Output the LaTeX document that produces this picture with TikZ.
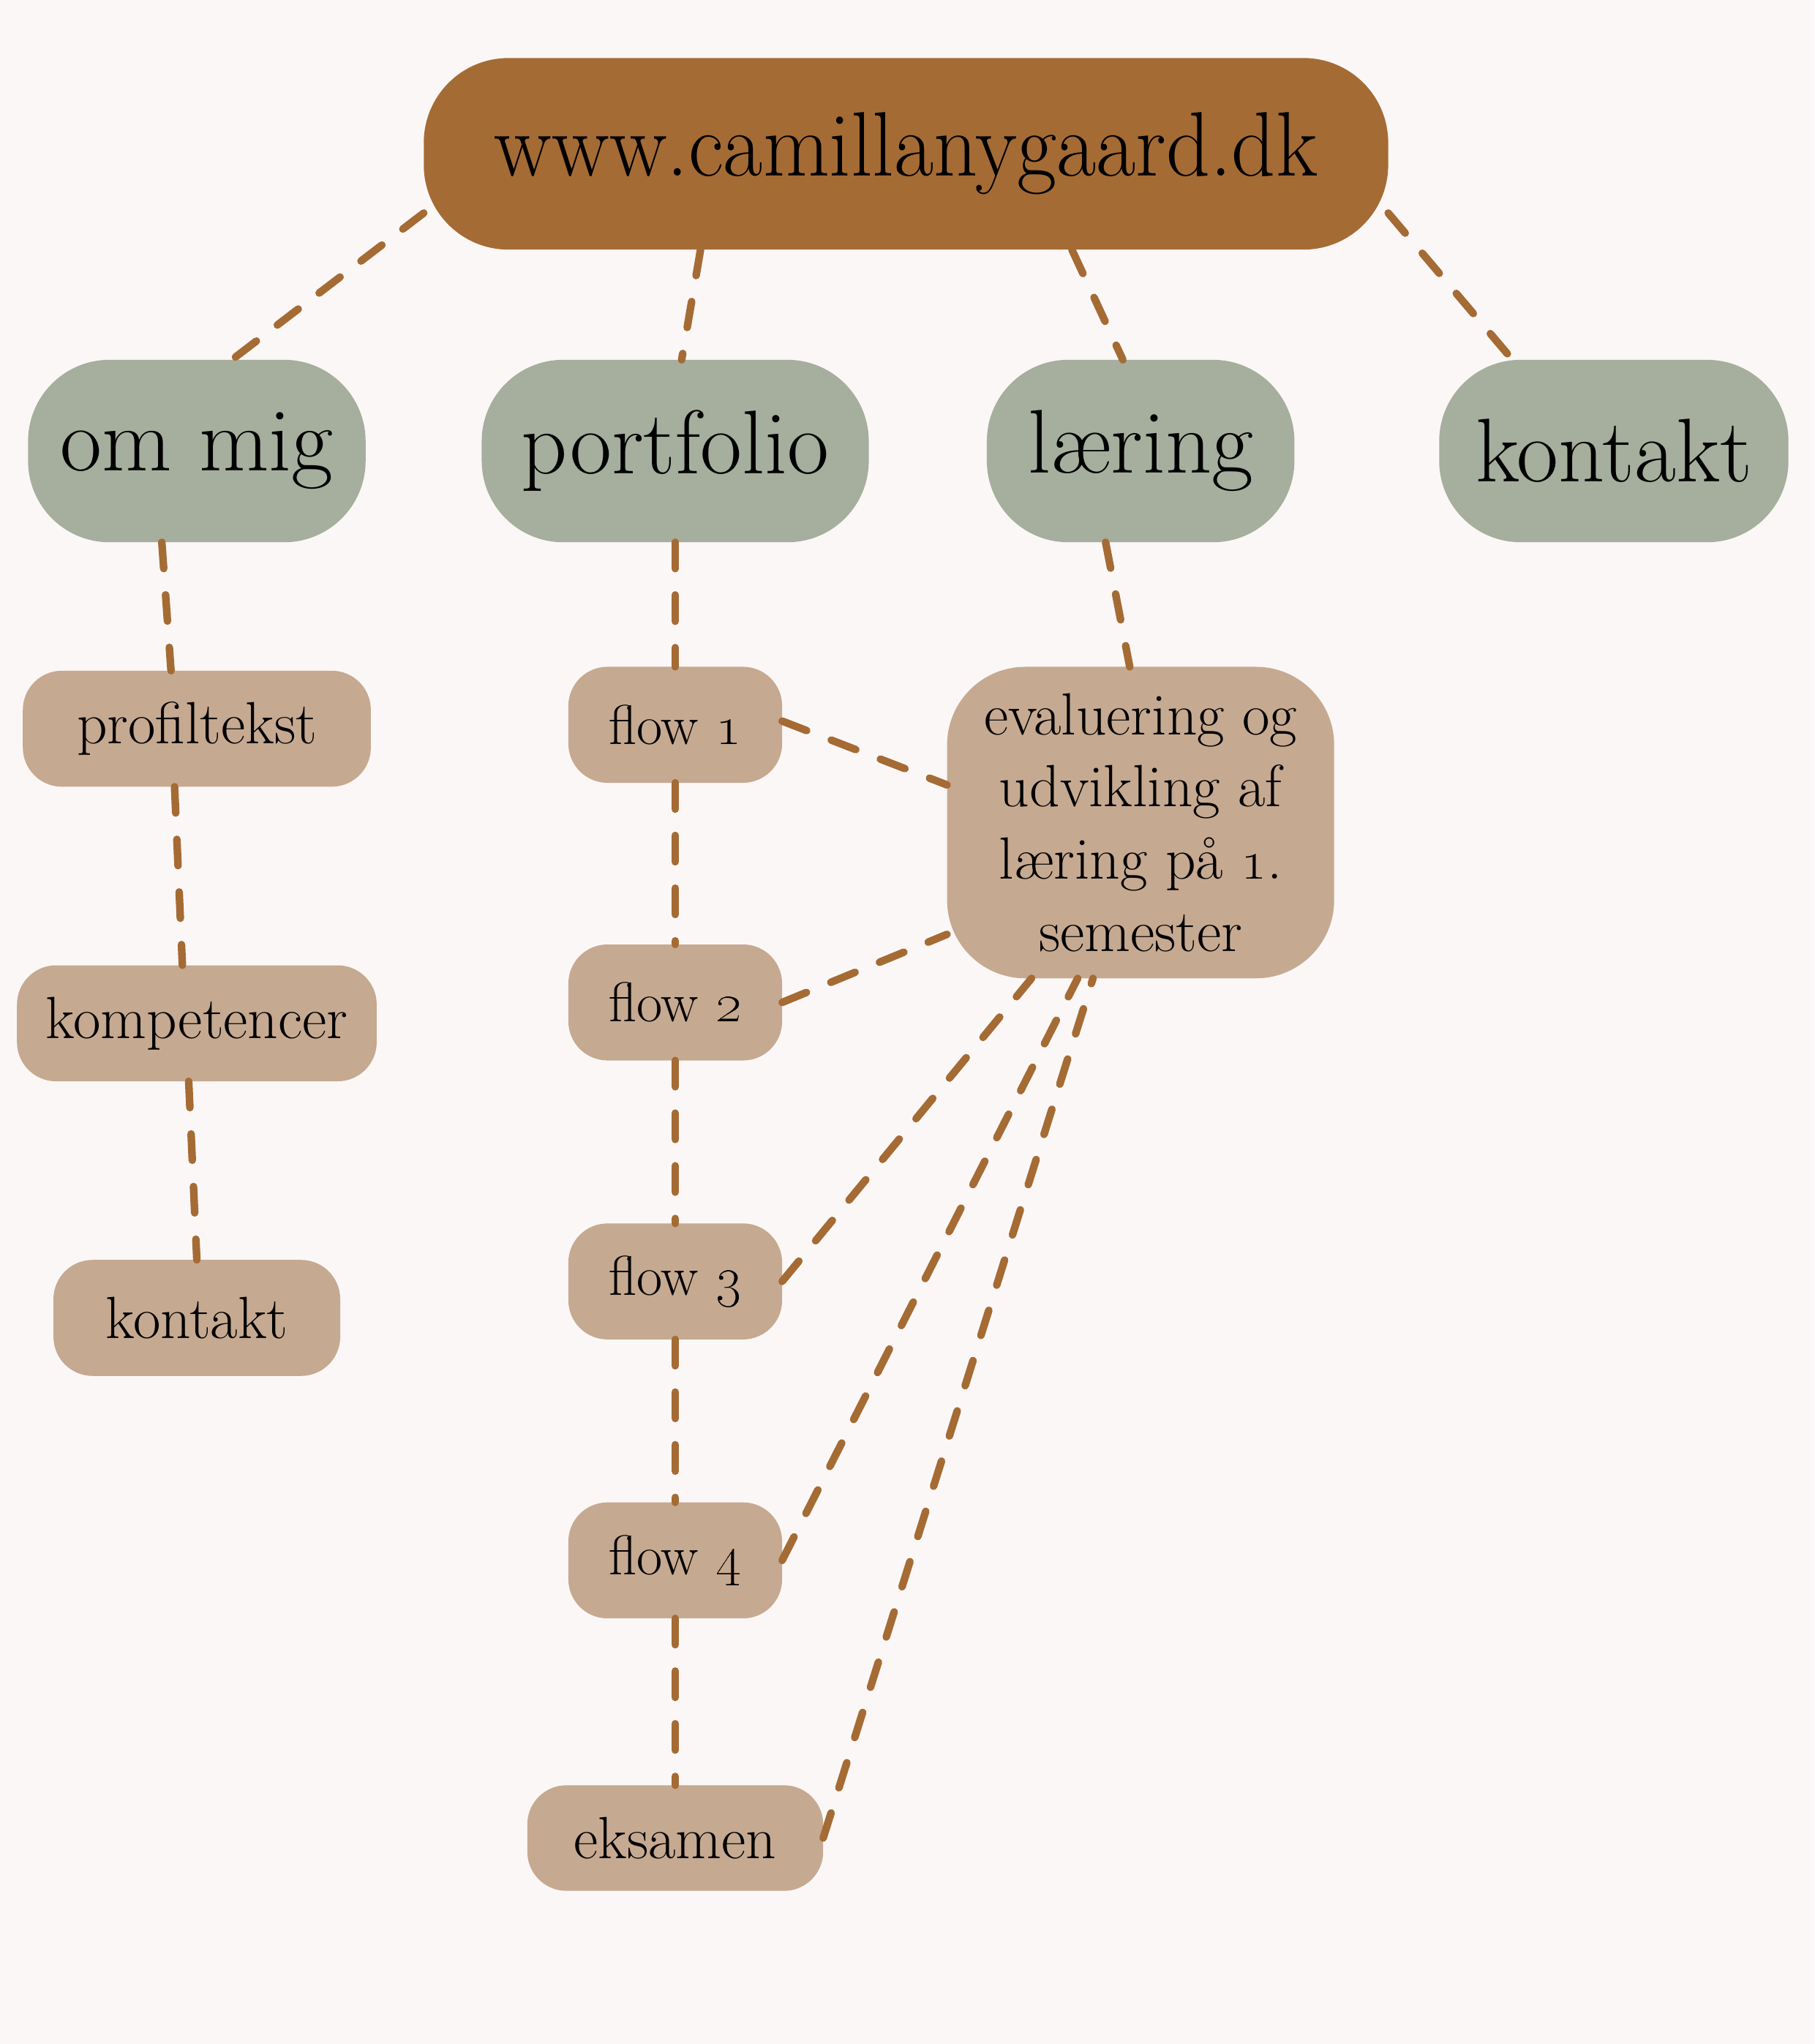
\documentclass[tikz,border=0pt]{standalone}
\usepackage{graphicx}

\definecolor{bark}{HTML}{A56B34}
\definecolor{sage}{HTML}{A6AE9D}
\definecolor{sand}{HTML}{C6A991}
\definecolor{paper}{HTML}{FBF7F6}

\tikzset{
  site/.style={fill=bark, rounded corners=1.3cm, minimum width=14.8cm, minimum height=2.94cm, inner sep=0pt, outer sep=0pt},
  menu/.style={fill=sage, rounded corners=1.25cm, minimum height=2.8cm, inner sep=0pt, outer sep=0pt, font=\fontsize{39.5}{46}\selectfont},
  item/.style={fill=sand, rounded corners=0.6cm, minimum height=1.78cm, inner sep=0pt, outer sep=0pt, font=\fontsize{26}{31.5}\selectfont},
  flowbox/.style={item, minimum width=3.28cm, font=\fontsize{24.5}{31.5}\selectfont},
  link/.style={draw=bark, line width=3.3pt, line cap=round, dash pattern=on 11.5pt off 11.5pt},
}

\begin{document}
\begin{tikzpicture}[x=0.02cm, y=-0.02cm]
\fill[paper] (0,0) rectangle (1392,1568);
\useasboundingbox (0,0) rectangle (1392,1568);

\node[site] (site) at (695,118) {\scalebox{0.94}[1]{\fontsize{40}{48}\selectfont www.camillanygaard.dk}};

\node[menu, minimum width=5.18cm] (ommig) at (151,346) {om mig};
\node[menu, minimum width=5.94cm] (portfolio) at (518,346) {portfolio};
\node[menu, minimum width=4.72cm] (laering) at (875,346) {læring};
\node[menu, minimum width=5.36cm] (kontakt) at (1238,346) {kontakt};

\node[item, minimum width=5.34cm] (profil) at (151,559) {profiltekst};
\node[item, minimum width=5.52cm] (komp) at (151,785) {kompetencer};
\node[item, minimum width=4.4cm] (kontaktb) at (151,1011) {kontakt};

\node[flowbox] (flow1) at (518,556) {flow \oldstylenums{1}};
\node[flowbox] (flow2) at (518,769) {flow \oldstylenums{2}};
\node[flowbox] (flow3) at (518,983) {flow \oldstylenums{3}};
\node[flowbox] (flow4) at (518,1197) {flow \oldstylenums{4}};
\node[item, minimum width=4.54cm, minimum height=1.62cm] (eksamen) at (518,1410) {eksamen};

\node[item, rounded corners=1.2cm, minimum width=5.94cm, minimum height=4.78cm, align=center] (eval) at (875,631)
  {evaluering og\\udvikling af\\læring på \oldstylenums{1}.\\semester};

% top level
\draw[link] (site.187) -- (ommig.69);
\draw[link] (site.205) -- (portfolio.86);
\draw[link] (site.330) -- (laering.101);
\draw[link] (site.353) -- (kontakt.138);

% om mig
\draw[link] (ommig.249) -- (profil.114);
\draw[link] (profil.249) -- (komp.104);
\draw[link] (komp.262) -- (kontaktb.north);

% portfolio
\foreach \a/\b in {portfolio/flow1, flow1/flow2, flow2/flow3, flow3/flow4, flow4/eksamen}
  \draw[link] (\a.south) -- (\b.north);

% laering
\draw[link] (laering.249) -- (eval.94);
\draw[link] (flow1.2) -- (eval.169);
\draw[link] (flow2.east) -- (eval.210);
\draw[link] (flow3.east) -- (eval.235);
\draw[link] (flow4.east) -- (eval.248);
\draw[link] (eksamen.east) -- (eval.253);
\end{tikzpicture}
\end{document}
